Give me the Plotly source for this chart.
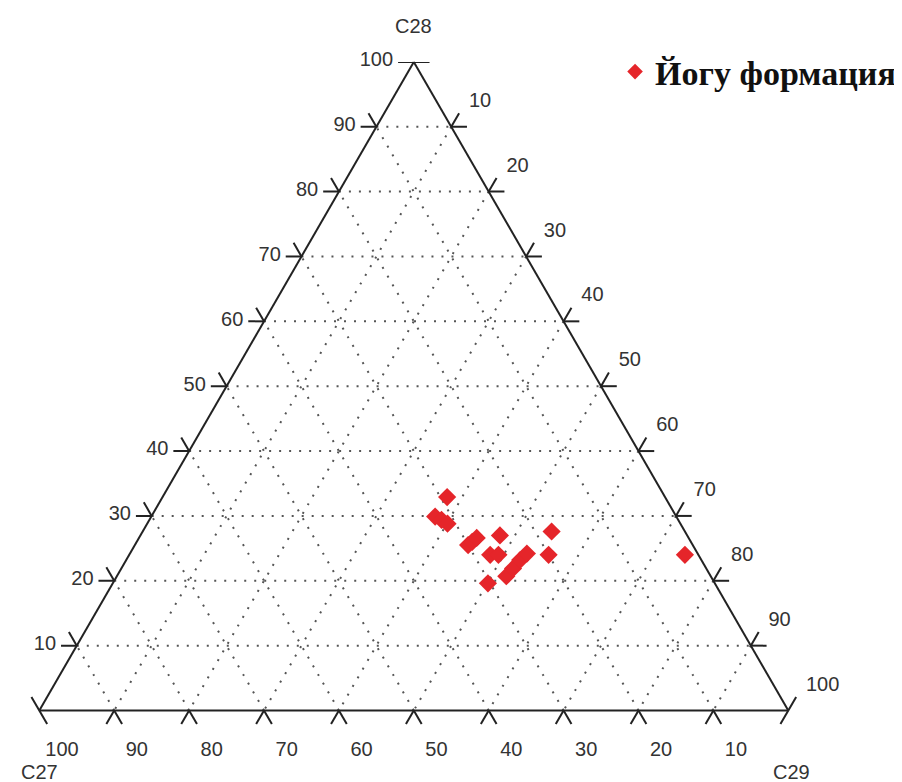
import math
import plotly.graph_objects as go

# Ternary composition (%)
c28 = [32.9, 29.9, 29.4, 28.8, 25.5, 26.0, 26.6, 27.0, 24.0, 24.0, 19.6, 20.7, 21.9, 23.2, 24.2, 27.6, 24.0, 24.0]
c29 = [38.0, 37.9, 39.0, 40.1, 44.5, 44.8, 45.1, 48.0, 48.2, 49.3, 50.1, 52.0, 52.3, 52.6, 53.0, 54.6, 56.0, 74.2]
c27 = [round(100 - a - c, 1) for a, c in zip(c28, c29)]

series_name = "Йогу формация"
tick_vals = [10, 20, 30, 40, 50, 60, 70, 80, 90, 100]
tick_text = [str(v) for v in tick_vals]

# triangle placement (pixels of the figure); same geometry for the ternary and the overlay
X0, X1, YB, YT = 31.3, 780.3, 702.5, 53.9
W, HP = 902, 782
dom_x = [X0 / W, X1 / W]
dom_y = [1 - YB / HP, 1 - YT / HP]
H = 50 * math.sqrt(3)
S = math.sqrt(3) / 2
unit = (X1 - X0) / 100.0
pad = 3  # overlay axes extend a little beyond the triangle so tick marks are not clipped
ov_dom_x = [(X0 - pad * unit) / W, (X1 + pad * unit) / W]
ov_dom_y = [1 - (YB + pad * unit) / HP, 1 - YT / HP]

# "V" tick marks built from tick values in ternary-plane units (side = 100)
L = 2.1
sx, sy = [], []
def seg(p, q):
    sx.extend([p[0], q[0], None]); sy.extend([p[1], q[1], None])
for v in tick_vals[:-1]:
    # left edge, C28 = v
    p = (v / 2, v * S)
    seg(p, (p[0] - L, p[1])); seg(p, (p[0] - 0.5 * L, p[1] + S * L))
    # bottom edge, C27 = v
    p = (100 - v, 0)
    seg(p, (p[0] - 0.5 * L, -S * L)); seg(p, (p[0] + 0.5 * L, -S * L))
    # right edge, C29 = v
    p = (v + (100 - v) / 2, (100 - v) * S)
    seg(p, (p[0] + L, p[1])); seg(p, (p[0] + 0.5 * L, p[1] + S * L))
# vertices
seg((50 - L, H), (50 + L, H))
seg((-0.5 * L, S * L), (0.5 * L, -S * L))
seg((100 + 0.5 * L, S * L), (100 - 0.5 * L, -S * L))

fig = go.Figure()
fig.add_trace(go.Scatter(
    x=sx, y=sy, mode="lines", line=dict(color="#222", width=2),
    showlegend=False, hoverinfo="skip", cliponaxis=False, connectgaps=False,
    xaxis="x", yaxis="y",
))
fig.add_trace(go.Scatterternary(
    a=c28, b=c27, c=c29, mode="markers", name=series_name,
    marker=dict(symbol="diamond", size=14, color="#e5252a", line=dict(width=0)),
    showlegend=True,
))

font_lbl = dict(family="Liberation Sans, Arial", size=20, color="#333")
axis_common = dict(
    min=0, linewidth=2, linecolor="#222", showline=True,
    showgrid=True, gridcolor="#555", griddash="2px,8px", gridwidth=1.5,
    ticks="outside", tickwidth=2, tickcolor="rgba(0,0,0,0)",
    tickvals=tick_vals, tickfont=font_lbl,
)
nb = "\u00a0" * 4
fig.update_layout(
    width=W, height=HP,
    margin=dict(l=0, r=0, t=0, b=0),
    paper_bgcolor="white", plot_bgcolor="rgba(0,0,0,0)",
    xaxis=dict(domain=ov_dom_x, range=[-pad, 100 + pad], visible=False, fixedrange=True),
    yaxis=dict(domain=ov_dom_y, range=[-pad, H], visible=False, fixedrange=True),
    ternary=dict(
        domain=dict(x=dom_x, y=dom_y),
        bgcolor="white",
        sum=100,
        aaxis=dict(title=dict(text=""), ticklen=17, **axis_common),
        baxis=dict(title=dict(text=""), ticklen=23, ticktext=[nb + t for t in tick_text], **axis_common),
        caxis=dict(title=dict(text=""), ticklen=28, **axis_common),
    ),
    annotations=[
        dict(text="C28", x=405 / W, y=1 - 18 / HP, xref="paper", yref="paper",
             showarrow=False, font=font_lbl, xanchor="center", yanchor="middle"),
        dict(text="C27", x=31 / W, y=1 - 764 / HP, xref="paper", yref="paper",
             showarrow=False, font=font_lbl, xanchor="center", yanchor="middle"),
        dict(text="C29", x=783 / W, y=1 - 764 / HP, xref="paper", yref="paper",
             showarrow=False, font=font_lbl, xanchor="center", yanchor="middle"),
    ],
    showlegend=True,
    legend=dict(x=0.673, y=1 - 64 / HP, xanchor="left", yanchor="middle",
                font=dict(family="Liberation Serif, Times New Roman", size=34, color="#111", weight="bold"),
                itemsizing="constant", bgcolor="rgba(0,0,0,0)"),
)

fig.write_html("out.html")
